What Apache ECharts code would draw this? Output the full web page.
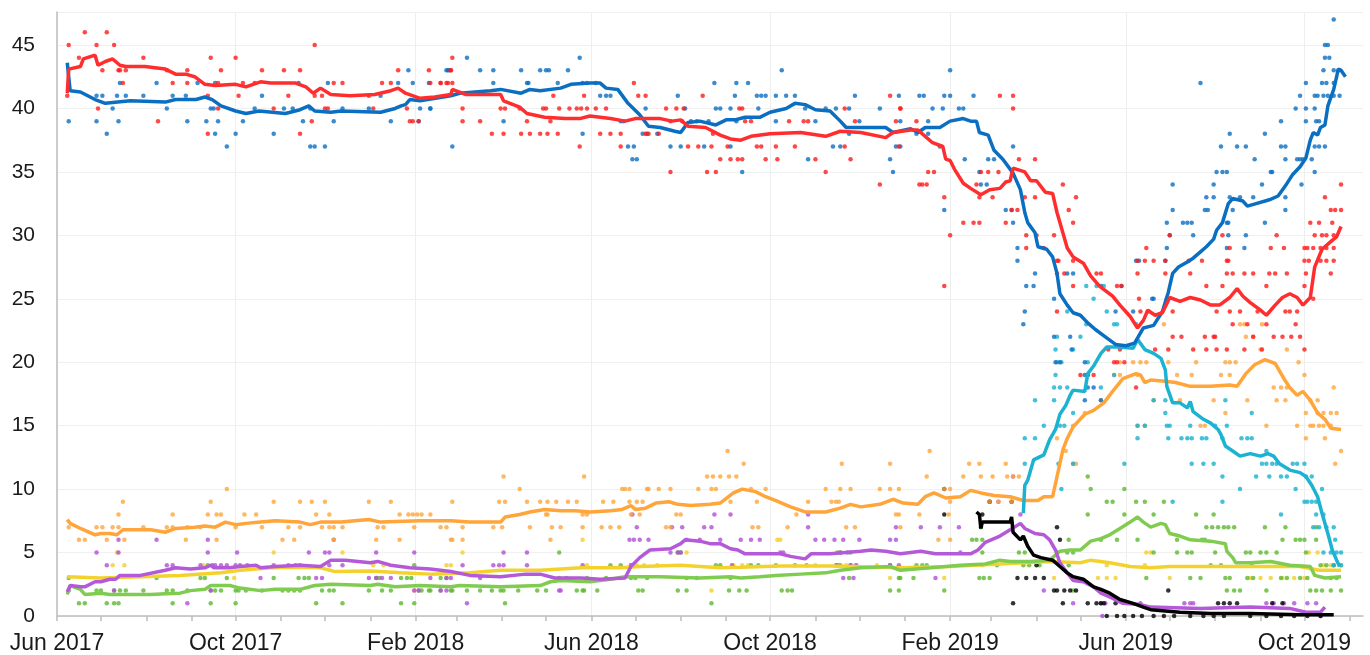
<!DOCTYPE html>
<html>
<head>
<meta charset="utf-8">
<script src="https://cdn.jsdelivr.net/npm/echarts@6/dist/echarts.min.js"></script>
<style>
  html, body { margin: 0; padding: 0; background: #fff; }
  #chart { width: 1370px; height: 655px; }
</style>
</head>
<body>
<div id="chart"></div>
<script>
// x values are days counted from 1 Jun 2017
const START = Date.UTC(2017, 5, 1);
const END_DAY = 892;
const tickLabels = ['Jun 2017', 'Oct 2017', 'Feb 2018', 'Jun 2018', 'Oct 2018', 'Feb 2019', 'Jun 2019', 'Oct 2019'];
const yTicks = [0, 5, 10, 15, 20, 25, 30, 35, 40, 45];

// moving averages
const conLine = [[7,43.6],[9,41.4],[16,41.3],[26,40.7],[33,40.4],[50,40.6],[74,40.5],[81,40.7],[95,40.7],[101,40.9],[106,40.7],[112,40.2],[122,39.8],[129,39.6],[138,39.8],[156,39.6],[166,39.9],[172,40.2],[176,39.8],[187,39.7],[194,39.8],[221,39.7],[231,40.0],[235,40.2],[238,40.3],[241,40.7],[248,40.6],[269,41.0],[275,41.2],[296,41.4],[303,41.5],[317,41.2],[323,41.5],[330,41.4],[344,41.6],[351,41.9],[364,42.0],[371,42.0],[375,41.6],[383,41.5],[390,40.4],[398,39.5],[404,38.6],[412,38.5],[422,38.2],[426,38.1],[431,38.9],[439,39.0],[450,38.7],[457,39.1],[463,39.1],[470,39.3],[480,39.3],[487,39.7],[498,40.0],[504,40.4],[511,40.3],[518,39.9],[528,39.8],[535,39.0],[539,38.5],[552,38.5],[566,38.5],[571,38.1],[583,38.4],[588,38.1],[593,38.5],[603,38.5],[610,39.0],[619,39.2],[624,39.0],[628,39.0],[630,38.1],[636,37.9],[640,36.7],[646,36.0],[653,34.9],[658,33.6],[661,31.8],[663,31.0],[668,30.2],[670,29.1],[676,28.9],[680,28.3],[683,27.0],[685,25.4],[690,24.5],[694,23.9],[699,23.7],[704,23.1],[709,22.6],[716,22.0],[723,21.4],[730,21.3],[736,21.5],[742,22.7],[749,22.9],[755,24.0],[759,25.5],[762,27.0],[766,27.5],[772,27.9],[776,28.2],[781,28.7],[785,29.1],[790,29.7],[792,30.4],[796,31.0],[800,32.5],[803,32.9],[810,32.7],[813,32.3],[819,32.5],[828,32.8],[834,33.1],[839,33.9],[844,34.8],[849,35.4],[853,36.1],[856,37.5],[858,38.1],[861,37.9],[863,38.5],[866,38.7],[868,40.2],[872,41.5],[874,42.5],[875,43.1],[877,43.0],[880,42.5]];
const labLine = [[7,41.2],[8,43.1],[16,43.3],[18,43.9],[26,44.2],[28,43.4],[33,43.7],[38,43.9],[43,43.4],[47,43.3],[60,43.3],[74,43.1],[81,42.7],[88,42.7],[94,42.5],[101,41.9],[108,41.8],[122,41.9],[129,41.7],[139,42.1],[146,42.0],[163,42.0],[170,41.7],[175,41.2],[180,41.6],[187,41.1],[200,41.0],[217,41.1],[228,41.4],[233,41.6],[238,41.2],[248,40.8],[258,40.9],[269,41.1],[270,41.5],[279,41.1],[303,41.1],[305,40.6],[316,40.1],[321,39.6],[333,39.3],[347,39.2],[357,39.2],[364,39.4],[378,39.2],[388,39.0],[395,39.2],[412,39.2],[420,39.0],[426,39.1],[431,38.6],[443,38.5],[453,37.9],[460,37.6],[467,37.5],[474,37.8],[487,38.0],[508,38.1],[525,37.8],[535,38.2],[549,38.1],[566,37.7],[571,38.1],[583,38.3],[588,38.3],[593,37.8],[598,37.3],[605,37.0],[607,36.0],[610,35.9],[613,35.2],[619,34.1],[624,33.7],[631,33.2],[637,33.6],[644,33.7],[648,34.2],[651,34.3],[653,35.3],[661,35.0],[665,34.3],[669,34.3],[675,33.4],[680,33.3],[683,31.8],[687,30.2],[690,29.0],[694,28.3],[701,27.8],[706,26.8],[712,26.0],[721,25.2],[726,24.5],[733,23.6],[738,22.7],[742,23.3],[745,24.1],[750,23.7],[755,23.9],[760,25.1],[767,24.8],[774,25.1],[781,24.9],[788,24.5],[794,24.5],[801,25.1],[806,25.8],[810,25.2],[815,24.7],[822,24.1],[826,23.7],[832,24.5],[837,25.1],[842,25.4],[847,25.1],[851,24.5],[856,25.1],[859,27.5],[864,28.9],[869,29.4],[874,29.9],[877,30.7]];
const ldLine = [[7,7.6],[9,7.3],[16,6.9],[26,6.4],[30,6.5],[36,6.5],[41,6.4],[45,6.8],[64,6.8],[74,6.6],[81,6.9],[94,7.0],[101,7.1],[108,7.0],[115,7.4],[122,7.2],[129,7.3],[139,7.4],[149,7.5],[166,7.4],[173,7.2],[180,7.4],[194,7.4],[213,7.6],[221,7.4],[248,7.5],[269,7.5],[282,7.4],[303,7.4],[306,7.8],[316,8.0],[323,8.2],[333,8.4],[344,8.3],[354,8.3],[364,8.2],[378,8.3],[386,8.4],[392,8.7],[395,8.4],[402,8.5],[409,8.9],[418,9.0],[424,8.8],[433,8.7],[446,8.8],[453,8.9],[462,9.7],[468,10.0],[477,9.8],[484,9.4],[491,9.1],[501,8.6],[511,8.2],[525,8.2],[535,8.5],[542,8.8],[549,8.6],[562,8.8],[571,9.2],[578,8.9],[588,8.8],[593,9.4],[599,9.7],[607,9.3],[617,9.4],[624,9.9],[631,9.7],[640,9.5],[651,9.4],[660,9.1],[670,9.1],[674,9.4],[680,9.4],[684,11.5],[687,13.1],[690,14.0],[694,14.9],[702,15.9],[708,16.2],[715,16.8],[721,17.7],[728,18.7],[737,19.1],[740,19.0],[743,18.4],[747,18.6],[757,18.5],[764,18.4],[774,18.1],[788,18.1],[801,18.2],[806,18.1],[812,19.1],[818,19.8],[825,20.2],[832,19.9],[838,18.7],[842,18.0],[847,17.4],[851,17.7],[856,17.0],[861,16.0],[866,15.5],[870,14.8],[877,14.7]];
const brxLine = [[660,8.1],[661,10.3],[663,10.7],[667,12.3],[674,12.7],[678,13.9],[682,14.7],[685,15.9],[689,16.6],[692,17.4],[694,17.8],[702,17.7],[704,19.1],[708,19.7],[713,20.7],[717,21.2],[726,21.2],[735,21.1],[738,21.8],[743,21.0],[749,20.7],[754,20.3],[757,19.4],[758,18.1],[762,16.8],[767,16.8],[772,16.4],[774,16.9],[776,16.1],[783,15.5],[788,15.2],[793,14.7],[795,14.3],[798,13.4],[803,13.0],[808,12.6],[815,12.8],[822,12.6],[827,12.8],[831,12.6],[835,12.0],[842,11.5],[849,11.3],[853,11.0],[857,10.3],[861,9.4],[864,8.1],[868,6.5],[871,5.2],[874,4.4],[876,3.9]];
const grnLine = [[7,1.7],[9,2.4],[16,2.1],[19,1.7],[30,1.8],[36,1.7],[64,1.7],[74,1.75],[84,1.8],[91,2.0],[101,2.1],[105,2.4],[118,2.4],[125,2.2],[139,2.0],[149,2.1],[166,2.1],[176,2.4],[187,2.5],[214,2.4],[219,2.5],[231,2.3],[248,2.4],[269,2.3],[275,2.4],[303,2.3],[330,2.4],[337,2.7],[344,2.8],[364,2.7],[378,2.9],[388,3.1],[412,3.1],[439,3.0],[460,3.1],[467,3.0],[480,3.1],[491,3.2],[508,3.3],[525,3.4],[535,3.6],[549,3.8],[569,3.9],[576,3.6],[597,3.8],[617,4.0],[634,4.1],[644,4.4],[651,4.3],[665,4.3],[678,4.4],[685,5.1],[692,5.2],[699,5.2],[706,5.9],[713,6.1],[719,6.4],[726,6.9],[733,7.4],[738,7.8],[742,7.4],[747,7.0],[754,7.3],[757,7.2],[760,6.5],[767,6.3],[774,6.0],[788,5.9],[798,5.7],[799,5.1],[803,4.6],[805,4.2],[815,4.2],[829,4.3],[842,4.0],[856,3.9],[859,3.2],[866,3.0],[877,3.1]];
const ukipLine = [[7,1.9],[9,2.4],[16,2.3],[19,2.3],[26,2.7],[30,2.7],[36,2.9],[40,2.9],[43,3.2],[57,3.2],[74,3.6],[81,3.8],[91,3.7],[101,3.8],[105,4.0],[107,3.8],[118,3.8],[125,3.9],[136,4.0],[139,3.8],[149,3.9],[166,4.0],[180,3.9],[187,4.4],[197,4.4],[214,4.2],[219,4.3],[228,4.0],[241,3.8],[255,3.7],[269,3.5],[282,3.2],[303,3.1],[320,3.3],[330,3.3],[340,3.0],[358,3.0],[371,2.9],[388,3.0],[392,3.9],[398,4.6],[405,5.2],[419,5.3],[426,5.7],[429,6.0],[439,5.9],[446,5.7],[453,5.7],[460,5.3],[465,5.2],[470,4.9],[480,4.9],[494,4.9],[501,4.7],[511,4.5],[515,4.9],[528,4.9],[549,5.1],[556,5.2],[566,5.1],[576,4.9],[590,5.1],[600,4.9],[624,4.9],[629,5.2],[634,5.8],[644,6.3],[651,6.8],[658,7.3],[661,6.9],[668,6.5],[674,6.4],[678,6.0],[682,5.2],[685,4.2],[690,3.4],[694,2.8],[701,2.7],[708,2.3],[713,1.8],[719,1.5],[728,1.0],[740,0.9],[747,0.7],[781,0.6],[815,0.7],[842,0.6],[853,0.3],[863,0.3],[866,0.7]];
const snpLine = [[7,3.1],[30,3.0],[57,3.1],[84,3.2],[112,3.4],[125,3.6],[146,3.8],[166,3.85],[180,3.8],[190,3.5],[214,3.55],[235,3.4],[255,3.3],[282,3.4],[303,3.6],[330,3.6],[358,3.8],[385,3.8],[398,3.9],[426,4.0],[453,3.8],[467,3.85],[494,3.95],[528,3.95],[562,3.85],[576,3.8],[610,3.9],[644,4.1],[678,4.3],[699,4.2],[706,4.4],[719,4.2],[733,3.9],[747,3.8],[760,3.9],[781,3.9],[815,3.9],[849,3.9],[862,3.6],[877,3.6]];
const chukLine = [[628,8.2],[630,8.0],[631,6.9],[632,7.4],[644,7.4],[651,7.4],[652,7.8],[653,6.6],[658,6.0],[660,6.3],[663,5.5],[667,4.8],[672,4.6],[680,4.4],[685,3.9],[690,3.4],[694,3.1],[701,2.9],[708,2.3],[713,2.1],[719,1.8],[726,1.3],[735,1.0],[742,0.7],[747,0.5],[767,0.3],[788,0.2],[815,0.2],[849,0.1],[872,0.1]];

// individual polls
const conPolls = [[8,39],[27,41],[27,39],[31,41],[34,38],[38,40],[41,41],[42,39],[43,42],[47,41],[59,41],[68,42],[75,40],[79,41],[88,41],[89,39],[96,42],[102,39],[105,40],[107,40],[108,42],[108,38],[110,39],[116,37],[122,38],[127,39],[135,40],[140,41],[148,38],[155,40],[161,40],[165,42],[168,39],[173,37],[176,37],[173,40],[183,37],[185,42],[189,39],[195,40],[213,40],[221,41],[228,39],[233,42],[240,43],[243,42],[247,39],[248,40],[254,42],[255,40],[267,43],
  [266,43],[268,43],[280,44],[289,43],[298,43],[298,42],[317,43],[321,42],[322,42],[330,43],[334,43],[336,43],[342,42],[349,43],[357,44],[359,42],[362,42],[368,42],[359,38],[371,41],[375,41],[378,41],[270,37],[255,40],[305,39],[385,39],[387,39],[390,37],[394,37],[393,36],[396,36],[400,38],[403,38],[410,38],[402,40],[419,37],[424,41],[426,37],[429,40],[433,39],[437,39],[442,37],[445,39],[449,42],[450,40],[453,40],[460,40],[460,37],[463,41],[464,42],[464,39],[472,42],[468,35],[478,41],[481,41],[484,41],[479,40],[491,39],[491,41],[495,43],[498,41],[504,41],[511,40],[513,36],[518,39],[525,40],[530,37],[532,40],[535,37],[541,40],[541,38],[545,41],[548,39],[562,40],[569,36],[571,35],[573,37],[575,41],[576,39],
  [576,37],[587,38],[589,41],[592,41],[595,39],[595,38],[598,40],[603,37],[605,40],[606,41],[610,41],[610,43],[606,32],[616,40],[619,40],[620,36],[626,41],[630,35],[631,34],[635,34],[636,36],[640,36],[648,32],[652,32],[653,37],[653,31],[656,29],[656,28],[661,24],[660,23],[662,26],[668,27],[667,26],[681,25],[690,27],[694,27],[713,26],[723,24],[727,26],[737,28],[735,24],[739,28],[748,25],[749,25],[757,28],[758,29],[760,30],[758,31],[762,32],[762,34],[758,25],[769,31],[772,31],[775,31],[776,30],[781,42],[784,32],[786,32],[785,33],[790,33],[790,34],[792,35],[796,35],[799,35],[795,37],[799,31],[800,31],[799,29],[800,30],[801,38],[801,33],[803,32],[806,37],[808,33],[812,37],[812,30],[811,29],[817,33],[818,36],[823,34],[825,38],[825,31],[829,35],[830,35],[836,37],[839,37],[836,39],[839,36],[839,32],[839,33],[846,40],[853,40],[847,36],[849,36],[851,36],[849,41],[850,34],[853,42],[853,39],[857,36],[859,35],[859,37],[862,37],[859,41],[861,41],[860,39],[862,39],[859,40],[864,42],[867,42],[865,43],[866,44],[869,44],[866,45],[868,45],[865,41],[866,37],[872,47],[872,43],[868,41],[872,41],[876,41],[872,42],[876,43],
  [681,22],[692,22],[693,21],[682,20],[685,20],[702,20],[702,19],[702,17],[713,17],[704,18],[708,18]];
const labPolls = [[8,45],[7,41],[15,44],[19,46],[27,45],[28,40],[31,43],[34,46],[39,45],[42,43],[43,43],[45,42],[47,43],[59,44],[69,39],[75,43],[79,42],[89,43],[89,42],[103,38],[103,41],[105,44],[110,40],[110,42],[112,43],[122,44],[124,41],[127,42],[135,42],[140,43],[148,40],[155,43],[158,41],[166,43],[166,38],[174,39],[176,45],[176,41],[181,41],[183,40],[185,40],[189,42],[195,42],[213,41],[216,40],[222,42],[228,42],[233,43],[239,40],[241,39],[243,39],[247,39],[254,43],[255,42],[262,42],[267,42],[269,43],
  [270,44],[269,43],[262,42],[266,42],[270,42],[277,40],[277,39],[289,39],[297,38],[305,38],[303,40],[306,40],[317,38],[316,40],[321,39],[323,38],[330,38],[332,40],[334,40],[335,38],[337,39],[339,41],[342,38],[343,40],[350,40],[355,40],[358,40],[362,40],[357,37],[360,41],[368,40],[371,38],[375,40],[378,38],[385,38],[385,37],[394,42],[397,41],[402,41],[402,38],[404,38],[411,38],[416,40],[419,39],[419,35],[423,40],[427,39],[428,40],[431,37],[438,37],[441,41],[444,35],[447,37],[448,38],[450,35],[453,36],[458,37],[460,36],[465,36],[468,36],[468,40],[466,40],[470,39],[474,39],[478,37],[481,37],[484,36],[491,37],[492,36],[500,39],[504,37],[510,39],[513,39],[518,36],[525,35],[538,40],[538,37],[542,36],[545,39],[562,34],[569,41],[573,39],[576,40],[575,37],
  [576,40],[587,39],[589,34],[591,34],[594,34],[595,35],[599,35],[606,26],[606,33],[610,30],[619,31],[626,31],[630,31],[630,33],[628,34],[631,35],[636,35],[639,33],[643,35],[644,41],[653,41],[653,40],[648,31],[652,32],[656,32],[657,36],[661,33],[662,30],[662,29],[668,33],[668,36],[669,30],[674,29],[681,30],[683,28],[684,28],[683,27],[688,27],[683,24],[687,34],[691,32],[694,31],[694,28],[694,26],[696,33],[710,27],[713,27],[724,26],[727,26],[739,25],[738,27],[738,28],[743,28],[749,28],[744,29],[740,24],[745,24],[757,28],[757,27],[760,30],[762,24],[773,28],[774,27],[782,28],[785,26],[796,30],[796,26],[799,28],[800,28],[801,29],[799,27],[803,27],[792,24],[801,24],[808,24],[811,27],[817,27],[820,24],[826,26],[828,27],[832,27],[829,29],[833,30],[838,29],[840,27],[839,24],[842,24],[847,24],[846,23],[852,29],[854,29],[858,29],[852,28],[855,28],[853,27],[852,26],[856,31],[859,30],[864,30],[867,30],[872,30],[862,31],[866,33],[863,29],[867,29],[872,29],[863,28],[867,28],[872,28],[870,27],[871,31],[870,32],[873,32],[877,32],[877,34],[858,25],[803,23],[813,23],[826,23],
  [762,22],[768,22],[784,22],[790,22],[791,22],[817,22],[831,22],[837,22],[843,22],[849,22],[718,21],[726,21],[750,21],[759,21],[776,21],[785,21],[792,21],[799,21],[811,21],[823,21],[852,21],[722,20],[724,20],[729,20],[699,19],[704,19],[708,19],[737,18]];
const ldPolls = [[8,7],[15,6],[19,6],[27,7],[31,7],[34,6],[38,7],[42,7],[42,8],[45,9],[46,6],[59,7],[75,7],[79,8],[79,7],[88,6],[89,7],[98,7],[103,8],[105,9],[109,8],[112,8],[109,6],[116,10],[122,7],[128,8],[136,8],[140,7],[148,9],[154,6],[158,7],[162,6],[166,9],[166,7],[174,9],[177,8],[181,7],[183,9],[186,8],[186,7],[189,7],[189,6],[195,7],[213,9],[218,6],[219,7],[223,7],[228,9],[234,8],[234,6],[240,8],[243,8],[246,8],[249,8],[244,7],[255,8],[262,7],[266,7],[269,6],
  [270,9],[270,6],[277,6],[277,7],[298,7],[302,9],[306,9],[305,11],[304,7],[316,10],[321,9],[323,7],[330,9],[335,9],[341,9],[334,8],[335,8],[337,6],[338,7],[344,7],[349,9],[355,9],[359,8],[362,8],[359,7],[360,11],[372,7],[378,7],[384,7],[373,9],[380,9],[386,10],[388,10],[391,10],[391,9],[396,9],[400,9],[392,8],[398,8],[403,10],[404,10],[411,10],[416,7],[419,7],[419,10],[423,8],[426,8],[438,10],[444,11],[448,11],[453,11],[447,10],[450,10],[458,13],[459,11],[464,11],[469,12],[460,9],[474,10],[478,9],[475,7],[479,7],[484,10],[513,9],[499,7],[505,8],[525,10],[529,9],[532,9],[534,9],[536,12],[535,10],[539,7],[545,7],[542,10],[562,10],[569,12],[569,10],[575,10],[573,8],[575,8],[576,7],
  [596,13],[623,12],[630,12],[648,12],[594,11],[619,11],[631,11],[639,11],[649,11],[653,11],[657,11],[606,10],[610,10],[610,9],[637,9],[643,9],[652,9],[609,8],[589,8],[602,6],[610,6],[683,14],[694,12],[696,12],[689,13],[694,15],[702,16],[713,17],[722,19],[726,19],[726,20],[735,20],[740,20],[744,20],[738,19],[738,15],[743,15],[749,17],[756,23],[759,20],[765,19],[767,17],[775,19],[778,20],[781,15],[784,15],[790,17],[795,19],[801,19],[798,20],[801,20],[805,20],[798,16],[808,23],[811,23],[812,22],[817,22],[813,17],[822,21],[826,15],[831,18],[836,18],[840,18],[833,17],[839,17],[840,21],[847,15],[848,20],[852,19],[853,16],[856,17],[861,17],[853,14],[856,15],[858,15],[862,15],[865,15],[861,16],[865,16],[870,16],[874,16],[866,14],[872,18],[873,12],[877,13],[870,15],[823,23]];
const brxPolls = [[661,14],[668,14],[661,12],[668,17],[681,17],[674,15],[681,18],[685,18],[690,18],[682,19],[683,20],[686,20],[682,21],[694,21],[685,15],[688,15],[684,12],[686,10],[694,16],[694,12],[704,20],[704,19],[713,18],[722,19],[729,12],[738,15],[743,15],[738,14],[749,17],[757,17],[757,16],[758,15],[760,15],[759,14],[762,9],[768,14],[772,14],[775,14],[775,12],[774,15],[782,14],[783,12],[790,12],[785,14],[791,15],[796,14],[799,15],[798,17],[796,11],[796,9],[808,10],[809,14],[813,14],[816,14],[816,16],[819,11],[823,12],[826,12],[830,12],[833,12],[828,11],[826,13],[836,8],[836,11],[840,11],[844,12],[847,12],[852,12],[846,10],[852,9],[854,9],[857,9],[860,9],[853,11],[857,11],[858,7],[862,7],[860,8],[865,8],[864,10],[865,5],[870,5],[874,5],[877,5],[867,7],[872,7],[873,6],[877,4],[872,4],[703,26],[710,26],[715,26],[690,24],[708,25],[717,24],[703,23],[722,23],[724,23],[737,23],[683,22],[699,22]];
const grnPolls = [[8,3],[15,1],[19,1],[27,2],[30,2],[34,1],[39,1],[42,1],[39,2],[43,2],[47,2],[59,2],[68,3],[75,2],[79,1],[79,2],[89,2],[98,3],[101,3],[103,4],[105,1],[105,2],[108,2],[112,2],[116,3],[122,1],[122,2],[124,2],[129,2],[140,2],[148,3],[154,2],[158,2],[162,2],[166,2],[165,3],[169,3],[172,3],[177,1],[181,2],[186,2],[189,2],[195,1],[213,2],[218,3],[220,3],[222,2],[228,2],[235,3],[235,1],[239,3],[242,3],[244,1],[244,4],[247,2],[249,2],[254,2],[262,3],[266,3],
  [255,2],[262,2],[269,2],[270,2],[280,2],[289,2],[297,2],[303,2],[305,2],[315,2],[306,1],[328,2],[334,2],[343,5],[343,3],[348,3],[355,2],[359,2],[360,2],[362,3],[369,2],[378,4],[385,4],[375,3],[385,3],[392,3],[395,3],[397,2],[400,2],[403,3],[424,2],[430,2],[424,5],[426,5],[430,3],[437,3],[447,1],[450,4],[453,4],[459,2],[466,2],[471,2],[460,3],[474,4],[479,4],[495,2],[499,2],[502,2],[491,4],[504,4],[512,4],[533,5],[535,5],[533,4],[535,4],[542,5],[542,4],[541,3],[569,4],[569,2],[575,2],[575,3],
  [576,3],[585,3],[587,4],[591,4],[594,4],[606,2],[625,6],[628,6],[632,6],[631,7],[632,5],[630,3],[633,3],[637,3],[642,4],[657,5],[661,5],[660,4],[664,4],[671,4],[683,5],[690,5],[694,5],[691,6],[691,4],[694,2],[704,11],[704,8],[706,10],[717,9],[721,9],[713,6],[724,6],[729,10],[729,8],[737,9],[743,9],[738,6],[749,8],[749,5],[744,3],[756,9],[765,6],[765,5],[772,5],[775,5],[774,3],[778,8],[781,3],[782,6],[784,6],[790,8],[791,5],[785,7],[789,7],[793,7],[797,7],[800,7],[804,7],[788,4],[795,4],[798,3],[801,3],[799,2],[804,2],[808,2],[812,5],[815,5],[816,4],[813,3],[817,3],[822,5],[826,5],[825,7],[826,2],[833,5],[837,6],[839,7],[836,3],[840,3],[846,6],[849,6],[852,6],[853,5],[849,3],[854,3],[860,7],[860,6],[856,2],[860,2],[864,2],[870,2],[877,2],[863,4],[867,4],[872,4],[870,3],[874,3]];
const ukipPolls = [[8,2],[27,5],[34,4],[39,2],[42,6],[42,5],[68,6],[75,4],[79,4],[89,1],[98,4],[103,5],[103,6],[105,2],[106,4],[108,4],[112,4],[116,4],[123,5],[122,4],[125,4],[130,4],[139,3],[148,4],[158,4],[163,4],[166,4],[172,5],[177,3],[181,3],[183,5],[186,5],[189,6],[186,4],[195,4],[213,3],[218,3],[218,5],[222,3],[228,3],[244,5],[244,2],[247,2],[255,3],[262,2],[266,2],
  [266,3],[269,3],[277,4],[280,1],[289,3],[298,4],[302,4],[305,4],[305,5],[321,4],[321,5],[343,2],[344,2],[359,4],[393,8],[392,4],[391,6],[394,6],[398,6],[404,6],[396,7],[419,5],[424,5],[426,5],[420,7],[427,7],[430,6],[442,7],[447,7],[449,8],[439,6],[453,6],[460,8],[467,6],[474,6],[480,6],[461,4],[494,5],[496,5],[513,8],[513,7],[518,6],[524,6],[531,6],[537,6],[548,6],[532,4],[542,4],[546,4],[535,5],[540,5],[537,3],[544,3],[569,6],[573,6],[573,7],[569,4],[575,4],
  [590,7],[603,7],[616,7],[600,3],[617,5],[637,9],[643,9],[653,11],[658,8],[674,2],[694,1],[713,1],[716,1],[714,0],[740,1],[770,1],[774,1],[776,1],[826,1],[831,1],[838,1],[845,1],[854,1],[860,1],[863,0]];
const snpPolls = [[38,4],[41,5],[46,4],[100,4],[121,3],[148,5],[195,5],[216,4],[223,4],[244,2],[266,4],[277,5],[269,4],[359,6],[362,4],[392,4],[396,4],[401,4],[410,4],[430,5],[447,2],[462,4],[468,4],[472,4],[492,6],[494,6],[518,4],[534,4],[539,4],[545,4],[560,4],[569,3],[606,3],[632,4],[681,3],[696,3],[711,3],[717,3],[723,3],[717,4],[743,4],[744,5],[747,5],[760,3],[815,3],[822,3],[829,3],[837,3],[845,3],[852,3],[855,5],[861,5],[865,4],[870,4],[872,4],[877,4]];
const chukPolls = [[606,10],[606,8],[632,8],[637,9],[652,9],[683,7],[669,4],[656,3],[662,3],[668,3],[674,3],[653,1],[681,2],[683,2],[688,2],[692,2],[696,2],[687,1],[685,6],[704,1],[710,1],[713,1],[715,1],[723,1],[717,0],[724,0],[729,0],[735,0],[741,0],[759,2],[749,0],[756,0],[763,0],[774,0],[783,0],[790,0],[797,0],[793,1],[797,1],[801,1],[806,1],[815,0],[826,0],[836,0],[845,0],[854,0],[863,0],[830,1],[837,1]];

const MONTHS = ['Jan','Feb','Mar','Apr','May','Jun','Jul','Aug','Sep','Oct','Nov','Dec'];
function labelToDay(label) {
  const [mon, yr] = label.split(' ');
  return (Date.UTC(+yr, MONTHS.indexOf(mon), 1) - START) / 864e5;
}
const labelDays = tickLabels.map(labelToDay);
const monthDays = [];
for (let y = 2017, m = 5; ; ) {
  const d = (Date.UTC(y, m, 1) - START) / 864e5;
  if (d > END_DAY) break;
  monthDays.push(d);
  if (++m > 11) { m = 0; y++; }
}

const chart = echarts.init(document.getElementById('chart'), null, { renderer: 'canvas' });

function pollSeries(data, color) {
  return { type: 'scatter', data: data, symbolSize: 4.5, itemStyle: { color: color }, z: 2, silent: true };
}
function lineSeries(data, color) {
  return { type: 'line', data: data, showSymbol: false, lineStyle: { color: color, width: 3.5 }, z: 3, silent: true };
}

const axisGrey = '#bdbdbd';
chart.setOption({
  animation: false,
  grid: { left: 57, right: 7, top: 12, bottom: 39 },
  xAxis: [
    {
      type: 'value', min: 0, max: END_DAY,
      axisLine: { show: true, lineStyle: { color: axisGrey, width: 1.5 } },
      axisTick: { show: true, length: 5, customValues: monthDays, lineStyle: { color: axisGrey, width: 1.5 } },
      axisLabel: { show: false },
      splitLine: { show: false }
    },
    {
      type: 'value', min: 0, max: END_DAY, position: 'bottom',
      axisLine: { show: false },
      axisTick: { show: false, customValues: labelDays },
      axisLabel: {
        customValues: labelDays,
        formatter: function (v) { return tickLabels[labelDays.indexOf(v)] || ''; },
        fontFamily: 'Liberation Sans, Arial, sans-serif', fontSize: 23, color: '#1a1a1a', margin: 16
      },
      splitLine: { show: true, lineStyle: { color: '#eeeeee', width: 1 } }
    }
  ],
  yAxis: {
    type: 'value', min: 0, max: 47.6, interval: 5,
    axisLine: { show: true, lineStyle: { color: axisGrey, width: 1.5 } },
    axisTick: { show: false },
    axisLabel: {
      showMaxLabel: false,
      formatter: function (v) { return yTicks.indexOf(v) >= 0 ? String(v) : ''; },
      fontFamily: 'Liberation Sans, Arial, sans-serif', fontSize: 21, color: '#1a1a1a', margin: 22
    },
    splitLine: { show: true, lineStyle: { color: '#f0f0f0', width: 1 } }
  },
  series: [
    pollSeries(snpPolls, '#f2cf2a'),
    pollSeries(grnPolls, '#5cb82e'),
    pollSeries(ukipPolls, '#b050d6'),
    pollSeries(chukPolls, '#000000'),
    pollSeries(ldPolls, '#ffa53a'),
    pollSeries(brxPolls, '#17b0d0'),
    pollSeries(conPolls, '#0a6ec2'),
    pollSeries(labPolls, '#ff1a1a'),
    lineSeries(snpLine, '#f3d22e'),
    lineSeries(grnLine, '#80cc50'),
    lineSeries(ukipLine, '#b45ad8'),
    lineSeries(chukLine, '#000000'),
    lineSeries(ldLine, '#ffa53a'),
    lineSeries(brxLine, '#1cb2d2'),
    lineSeries(conLine, '#0b6fc1'),
    lineSeries(labLine, '#ff2d2d')
  ]
});
</script>
</body>
</html>
